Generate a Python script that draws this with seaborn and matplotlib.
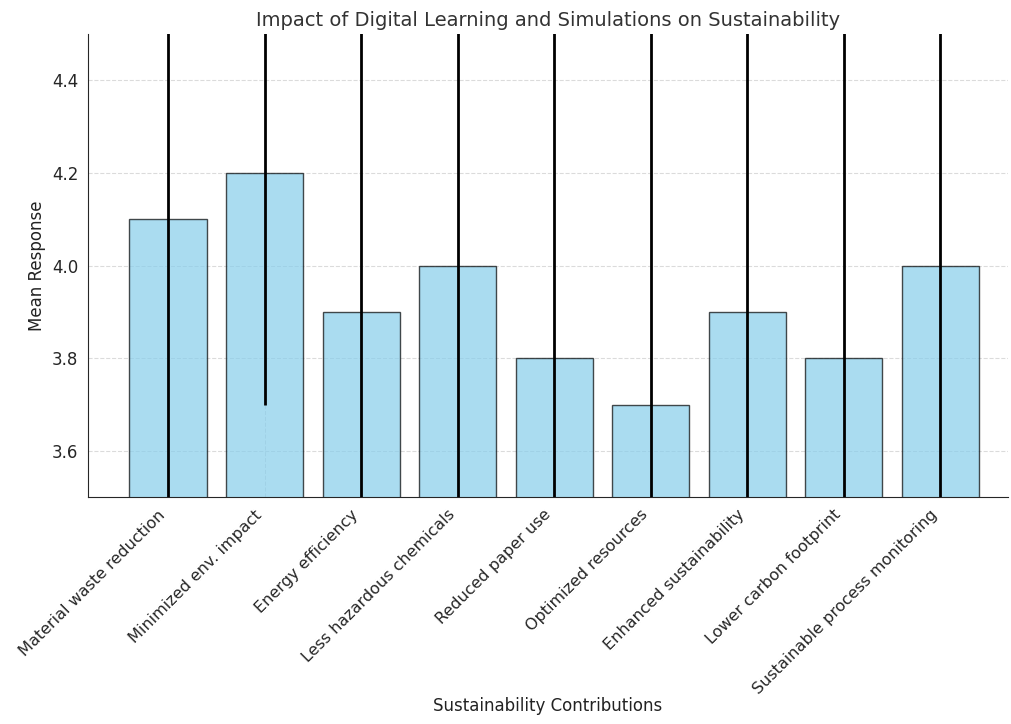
import matplotlib
matplotlib.use("Agg")
import matplotlib.pyplot as plt
import seaborn as sns
import pandas as pd

categories = [
    "Material waste reduction",
    "Minimized env. impact",
    "Energy efficiency",
    "Less hazardous chemicals",
    "Reduced paper use",
    "Optimized resources",
    "Enhanced sustainability",
    "Lower carbon footprint",
    "Sustainable process monitoring",
]
means = [4.1, 4.2, 3.9, 4.0, 3.8, 3.7, 3.9, 3.8, 4.0]
stds = [0.9, 0.5, 0.8, 0.7, 0.8, 0.9, 0.8, 0.8, 0.7]

df = pd.DataFrame({"Contribution": categories, "Mean": means, "Std": stds})

sns.set_style("white")
plt.rcParams["font.family"] = ["DejaVu Sans"]

fig, ax = plt.subplots(figsize=(10.11, 7.24), dpi=100)
sns.barplot(data=df, x="Contribution", y="Mean", color="skyblue", alpha=0.7,
            saturation=1, edgecolor="black", linewidth=1, width=0.8, ax=ax)
ax.errorbar(range(len(df)), df["Mean"], yerr=df["Std"], fmt="none",
            ecolor="black", elinewidth=2, capsize=0, zorder=3)

ax.set_xlim(-0.83, len(df) - 0.3)
ax.set_ylim(3.5, 4.5)
ax.set_yticks([3.6, 3.8, 4.0, 4.2, 4.4])
ax.grid(True, linestyle="--", alpha=0.7)
ax.set_axisbelow(True)
sns.despine(ax=ax)

ax.set_title("Impact of Digital Learning and Simulations on Sustainability",
             fontsize=14, color="#333333")
ax.set_xlabel("Sustainability Contributions", fontsize=12, color="#222222",
              labelpad=0)
ax.set_ylabel("Mean Response", fontsize=12, color="#222222")
plt.setp(ax.get_xticklabels(), rotation=45, ha="right", fontsize=11.5)
ax.tick_params(axis="y", labelsize=12)

fig.subplots_adjust(left=0.087, right=0.997, top=0.953, bottom=0.313)
fig.savefig("out.png", dpi=100)
